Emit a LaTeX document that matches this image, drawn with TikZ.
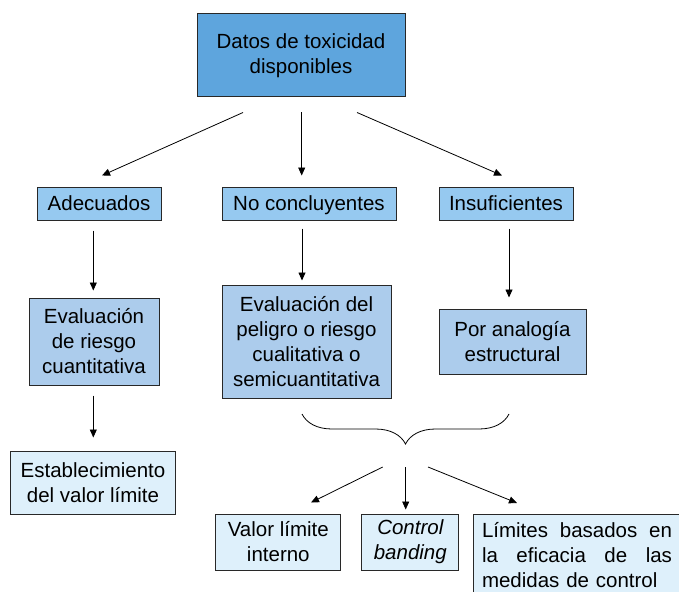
\documentclass[tikz,border=0pt]{standalone}
\usepackage{fontspec}
\setmainfont{Liberation Sans}
\usetikzlibrary{arrows.meta,calc,decorations.pathreplacing}
\definecolor{topblue}{RGB}{94,165,221}
\definecolor{midblue}{RGB}{150,201,240}
\definecolor{lowblue}{RGB}{172,204,236}
\definecolor{endblue}{RGB}{222,240,251}
\definecolor{edge}{RGB}{40,40,40}
\tikzset{
  box/.style={draw=edge,line width=1pt,inner sep=0pt,align=center,
    font=\fontsize{20.5}{25}\selectfont},
  onerow/.style={box,fill=midblue,minimum height=33pt,text height=15pt,text depth=2pt},
  arr/.style={-{Triangle[length=8pt,width=7pt]},line width=0.8pt,black},
}
\begin{document}
\begin{tikzpicture}[x=1pt,y=-1pt]
\useasboundingbox (0,0) rectangle (679,591);
\node [box,fill=topblue,minimum width=208pt,minimum height=83pt] (datos) at (301,55.5) {Datos de toxicidad\\disponibles};
\node [onerow,minimum width=124pt] (adec) at (99,203.5) {Adecuados};
\node [onerow,minimum width=174pt] (nocon) at (309,203.5) {No concluyentes};
\node [onerow,minimum width=134pt] (insuf) at (506,203.5) {Insuficientes};
\node [box,fill=lowblue,minimum width=130pt,minimum height=87pt] (evcuant) at (94,341.5) {Evaluación\\de riesgo\\cuantitativa};
\node [box,fill=lowblue,minimum width=169pt,minimum height=113pt] (evcual) at (306.5,341.5) {Evaluación del\\peligro o riesgo\\cualitativa o\\semicuantitativa};
\node [box,fill=lowblue,minimum width=147pt,minimum height=65pt] (analog) at (512.5,341.5) {Por analogía\\estructural};
\node [box,fill=endblue,minimum width=165pt,minimum height=63pt] (estab) at (93,482.5) {Establecimiento\\del valor límite};
\node [box,fill=endblue,minimum width=125pt,minimum height=56pt] (vli) at (278.3,542) {Valor límite\\interno};
\node [box,fill=endblue,minimum width=97pt,minimum height=56pt,font=\fontsize{20.5}{25}\selectfont\itshape] (cband) at (410.3,542) {Control\\banding};
\node [box,fill=endblue,anchor=north west,align=left,text width=190pt,inner xsep=9pt,inner ysep=5.5pt] (limites) at (472.5,514)
  {\strut Límites\hfill basados\hfill en\\la\hfill eficacia\hfill de\hfill las\\medidas de control\strut};
\draw [arr] ($(datos.south)+(-58,15)$) -- ($(adec.north)+(3,-11)$);
\draw [arr] ($(datos.south)+(0.7,15)$) -- ($(nocon.north)+(-7.3,-11)$);
\draw [arr] ($(datos.south)+(56,15)$) -- ($(insuf.north)+(-4,-11)$);
\draw [arr] ($(adec.south)+(-5.7,10)$) -- ($(evcuant.north)+(-0.7,-7)$);
\draw [arr] ($(nocon.south)+(-7,8)$) -- ($(evcual.north)+(-4.5,-4)$);
\draw [arr] ($(insuf.south)+(3,8)$) -- ($(analog.north)+(-3.5,-11)$);
\draw [arr] ($(evcuant.south)+(-0.7,10)$) -- ($(estab.north)+(0.3,-13)$);
\coordinate (bl) at (302,414);
\coordinate (br) at (509,414);
\draw [line width=0.8pt,decorate,decoration={brace,amplitude=30pt,mirror}] (bl) -- (br);
\coordinate (tip) at (405.7,444);
\draw [arr] ($(tip)+(-23,23)$) -- ($(vli.north)+(32.7,-11)$);
\draw [arr] ($(tip)+(0,23)$) -- ($(cband.north)+(-4.6,-4)$);
\draw [arr] ($(tip)+(22.3,23)$) -- ($(limites.north west)+(44.5,-11)$);
\end{tikzpicture}
\end{document}
